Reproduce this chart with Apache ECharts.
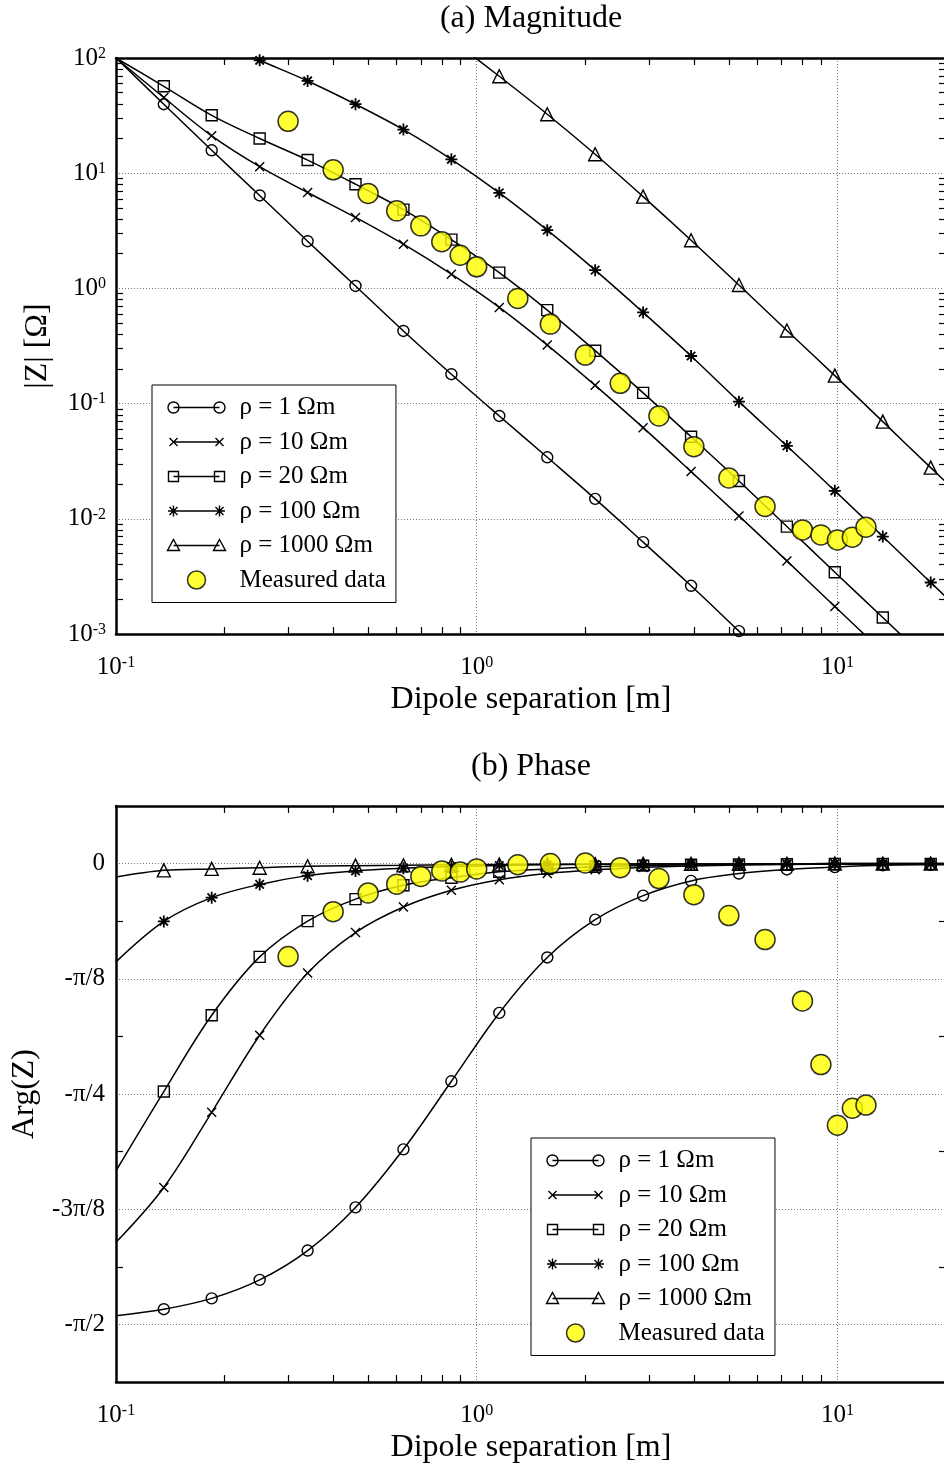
<!DOCTYPE html>
<html>
<head>
<meta charset="utf-8">
<title>Dipole impedance: magnitude and phase</title>
<script src="https://cdn.jsdelivr.net/npm/echarts@6/dist/echarts.min.js"></script>
<style>
  html, body { margin: 0; padding: 0; background: #ffffff; }
  #chart { width: 944px; height: 1468px; }
</style>
</head>
<body>
<div id="chart"></div>
<script>
// ---- Data ------------------------------------------------------------------
// Dipole separations (m) of the modelled curves; markers sit on every point but the first.
const SEP = [0.1, 0.1357, 0.1842, 0.2502, 0.3398, 0.4613, 0.6264, 0.8507, 1.155, 1.569,
             2.130, 2.893, 3.929, 5.333, 7.243, 9.835, 13.36, 18.14, 24.6];

// |Z| (ohm) for each resistivity, aligned with SEP (null = not computed / off the plot)
const MAG_R1    = [100, 39.7, 15.8, 6.41, 2.57, 1.05, 0.427, 0.180, 0.0781, 0.0342,
                   0.0149, 0.00627, 0.00262, 0.00106, 0.00043, null, null, null, null];
const MAG_R10   = [100, 45.4, 21.1, 11.4, 6.80, 4.13, 2.42, 1.33, 0.684, 0.322,
                   0.144, 0.0618, 0.0257, 0.0106, 0.00431, 0.00173, 0.00070, null, null];
const MAG_R20   = [100, 56.8, 31.8, 20.0, 13.0, 8.03, 4.83, 2.65, 1.37, 0.648,
                   0.288, 0.124, 0.0516, 0.0213, 0.00856, 0.00344, 0.00139, 0.00056, null];
const MAG_R100  = [null, null, 148, 95.5, 63.2, 39.7, 23.9, 13.2, 6.75, 3.20,
                   1.44, 0.619, 0.259, 0.104, 0.0429, 0.0175, 0.00701, 0.00280, 0.00113];
const MAG_R1000 = [null, null, null, null, null, null, null, 145, 69.4, 32.5,
                   14.6, 6.26, 2.62, 1.07, 0.431, 0.175, 0.0697, 0.0278, 0.0113];

// Arg(Z) (rad) for each resistivity, aligned with SEP
const PHASE_R1    = [-1.541, -1.519, -1.482, -1.419, -1.319, -1.172, -0.974, -0.742, -0.509, -0.320,
                     -0.191, -0.109, -0.059, -0.034, -0.020, -0.012, -0.006, -0.004, -0.003];
const PHASE_R10   = [-1.291, -1.104, -0.848, -0.585, -0.373, -0.235, -0.148, -0.091, -0.055, -0.034,
                     -0.021, -0.013, -0.008, -0.005, -0.003, -0.002, -0.001, -0.001, -0.001];
const PHASE_R20   = [-1.047, -0.777, -0.517, -0.318, -0.196, -0.121, -0.074, -0.048, -0.028, -0.018,
                     -0.011, -0.007, -0.004, -0.003, -0.002, -0.001, -0.001, -0.001, 0];
const PHASE_R100  = [-0.335, -0.197, -0.116, -0.071, -0.041, -0.025, -0.016, -0.010, -0.0065, -0.004,
                     -0.0025, -0.0015, -0.001, -0.001, -0.0005, 0, 0, 0, 0];
const PHASE_R1000 = [-0.046, -0.023, -0.018, -0.014, -0.009, -0.007, -0.006, -0.004, -0.003, -0.002,
                     -0.002, -0.001, -0.001, -0.001, -0.001, 0, 0, 0, 0];

// Field measurements
const MEAS_SEP   = [0.3, 0.4, 0.5, 0.6, 0.7, 0.8, 0.9, 1.0, 1.3, 1.6, 2.0, 2.5, 3.2, 4.0, 5.0, 6.3, 8.0, 9.0, 10, 11, 12];
const MEAS_MAG   = [28.2, 10.7, 6.67, 4.71, 3.49, 2.54, 1.94, 1.54, 0.819, 0.490, 0.264, 0.150,
                    0.0781, 0.0423, 0.0226, 0.0128, 0.0080, 0.00725, 0.00656, 0.00693, 0.00846];
const MEAS_PHASE = [-0.317, -0.164, -0.100, -0.070, -0.044, -0.025, -0.029, -0.018, -0.004, 0.000, 0.002,
                    -0.014, -0.051, -0.106, -0.177, -0.259, -0.468, -0.685, -0.892, -0.834, -0.823];

const RHO_NAMES = ['ρ = 1 Ωm', 'ρ = 10 Ωm', 'ρ = 20 Ωm', 'ρ = 100 Ωm', 'ρ = 1000 Ωm'];
const MEAS_NAME = 'Measured data';

// Axis ticks and labels
const X_LABELS = [0.1, 1, 10];
const X_GRID = [1, 10];
const MAG_LABELS = [1e-3, 1e-2, 1e-1, 1, 10, 100];
const MAG_GRID = [1e-2, 1e-1, 1, 10];
const PHASE_STEP = Math.PI / 8;
const PHASE_LABEL_TEXT = ['0', '-π/8', '-π/4', '-3π/8', '-π/2'];
const PHASE_LABELS = [0, -1, -2, -3, -4].map(k => k * PHASE_STEP);
const PHASE_MINOR = [-1, -3, -5, -7].map(k => k * Math.PI / 16);

// ---- Styling -----------------------------------------------------------------
const SERIF = 'Liberation Serif, Times New Roman, serif';
const BLACK = '#000000';
const GRID_LINE = { show: true, lineStyle: { color: '#7a7a7a', width: 1, type: [1, 2] } };
const AXIS_LINE = { show: true, onZero: false, lineStyle: { color: BLACK, width: 2.5 } };

// marker for each resistivity curve
const SYMBOLS = [
  'circle',
  'path://M0,0L10,10M10,0L0,10',
  'rect',
  'path://M5,0L5,10M0,5L10,5M1.5,1.5L8.5,8.5M8.5,1.5L1.5,8.5',
  'triangle'
];
const SYMBOL_SIZES = [11, 9, 11, 12, 13];
const SYMBOL_STROKES = [1.4, 1.4, 1.4, 1.8, 1.4];

// legend keys: marker - line - marker, 58 x 18 box
const LEGEND_ICONS = [
  'path://M0,0M58,18M11.5,9A5.5,5.5,0,1,1,0.5,9A5.5,5.5,0,1,1,11.5,9M6,9L52,9M57.5,9A5.5,5.5,0,1,1,46.5,9A5.5,5.5,0,1,1,57.5,9',
  'path://M0,0M58,18M2,5L10,13M10,5L2,13M6,9L52,9M48,5L56,13M56,5L48,13',
  'path://M0,0M58,18M1,4L11,4L11,14L1,14ZM6,9L52,9M47,4L57,4L57,14L47,14Z',
  'path://M0,0M58,18M6,3.5L6,14.5M0.5,9L11.5,9M2,5L10,13M10,5L2,13M6,9L52,9M52,3.5L52,14.5M46.5,9L57.5,9M48,5L56,13M56,5L48,13',
  'path://M0,0M58,18M6,3L12,14L0,14ZM6,9L52,9M52,3L58,14L46,14Z'
];

function logMinorTicks(lo, hi) {
  const out = [];
  for (let d = Math.round(Math.log10(lo)); d < Math.round(Math.log10(hi)) + 1; d++) {
    for (let m = 2; m <= 9; m++) {
      const v = m * Math.pow(10, d);
      if (v > lo && v < hi) out.push(v);
    }
  }
  return out;
}
const X_MINOR = logMinorTicks(0.1, 20);
const MAG_MINOR = logMinorTicks(1e-3, 100);

const powRich = {
  b: { fontFamily: SERIF, fontSize: 25, color: BLACK, lineHeight: 25, padding: [6, 0, 0, 0], verticalAlign: 'bottom' },
  s: { fontFamily: SERIF, fontSize: 16, color: BLACK, lineHeight: 16, verticalAlign: 'top' }
};
function powLabel(v) {
  return '{b|10}{s|' + Math.round(Math.log10(v)) + '}';
}
const nameStyle = { fontFamily: SERIF, fontSize: 32, color: BLACK };

// three x axes per panel: bottom (ticks + labels), top (ticks), grid lines
function xAxes(g, withName) {
  const base = { type: 'log', logBase: 10, min: 0.1, max: 20, gridIndex: g,
                 splitLine: { show: false }, minorTick: { show: false }, minorSplitLine: { show: false } };
  const ticks = { show: true, inside: true, length: 7, customValues: X_MINOR, lineStyle: { color: BLACK, width: 1.2 } };
  return [
    Object.assign({}, base, {
      position: 'bottom', axisLine: AXIS_LINE, axisTick: ticks,
      axisLabel: { show: true, customValues: X_LABELS, formatter: powLabel, rich: powRich, margin: 21 },
      name: withName, nameLocation: 'middle', nameGap: 50, nameTextStyle: nameStyle
    }),
    Object.assign({}, base, {
      position: 'top', axisLine: AXIS_LINE, axisTick: ticks, axisLabel: { show: false }
    }),
    Object.assign({}, base, {
      position: 'bottom', axisLine: { show: false, onZero: false },
      axisTick: { show: false, customValues: X_GRID }, axisLabel: { show: false }, splitLine: GRID_LINE
    })
  ];
}

function yAxesMag(g) {
  const base = { type: 'log', logBase: 10, min: 1e-3, max: 100, gridIndex: g,
                 splitLine: { show: false }, minorTick: { show: false }, minorSplitLine: { show: false } };
  const ticks = { show: true, inside: true, length: 7, customValues: MAG_MINOR, lineStyle: { color: BLACK, width: 1.2 } };
  return [
    Object.assign({}, base, {
      position: 'left', axisLine: AXIS_LINE, axisTick: ticks,
      axisLabel: { show: true, customValues: MAG_LABELS, formatter: powLabel, rich: powRich, margin: 10 },
      name: '|Z| [Ω]', nameLocation: 'middle', nameGap: 62, nameTextStyle: nameStyle
    }),
    Object.assign({}, base, { position: 'right', axisLine: AXIS_LINE, axisTick: ticks, axisLabel: { show: false } }),
    Object.assign({}, base, {
      position: 'left', axisLine: { show: false }, axisTick: { show: false, customValues: MAG_GRID },
      axisLabel: { show: false }, splitLine: GRID_LINE
    })
  ];
}

function yAxesPhase(g) {
  const base = { type: 'value', min: -9 * Math.PI / 16, max: Math.PI / 16, gridIndex: g,
                 splitLine: { show: false }, minorTick: { show: false }, minorSplitLine: { show: false } };
  const ticks = { show: true, inside: true, length: 7, customValues: PHASE_MINOR, lineStyle: { color: BLACK, width: 1.2 } };
  return [
    Object.assign({}, base, {
      position: 'left', axisLine: AXIS_LINE, axisTick: ticks,
      axisLabel: {
        show: true, customValues: PHASE_LABELS, margin: 11,
        fontFamily: SERIF, fontSize: 25, color: BLACK,
        formatter: v => PHASE_LABEL_TEXT[Math.round(-v / PHASE_STEP)]
      },
      name: 'Arg(Z)', nameLocation: 'middle', nameGap: 75, nameTextStyle: nameStyle
    }),
    Object.assign({}, base, { position: 'right', axisLine: AXIS_LINE, axisTick: ticks, axisLabel: { show: false } }),
    Object.assign({}, base, {
      position: 'left', axisLine: { show: false }, axisTick: { show: false, customValues: PHASE_LABELS },
      axisLabel: { show: false }, splitLine: GRID_LINE
    })
  ];
}

// one modelled curve: line through the values, marker on each point except the first
function curve(i, values, g) {
  const data = [];
  SEP.forEach((x, k) => {
    if (values[k] == null) return;
    data.push(k === 0 ? { value: [x, values[k]], symbol: 'none' } : [x, values[k]]);
  });
  return {
    type: 'line', name: RHO_NAMES[i], xAxisIndex: g * 3, yAxisIndex: g * 3,
    data: data, smooth: 0.35, clip: true, showAllSymbol: true,
    symbol: SYMBOLS[i], symbolSize: SYMBOL_SIZES[i],
    lineStyle: { color: BLACK, width: 1.5 },
    itemStyle: { color: 'transparent', borderColor: BLACK, borderWidth: SYMBOL_STROKES[i] },
    emphasis: { disabled: true }, z: 2
  };
}

function measured(values, g) {
  return {
    type: 'scatter', name: MEAS_NAME, xAxisIndex: g * 3, yAxisIndex: g * 3,
    data: MEAS_SEP.map((x, k) => [x, values[k]]),
    symbol: 'circle', symbolSize: 20, clip: true,
    itemStyle: { color: '#ffff00', borderColor: BLACK, borderWidth: 1.5 },
    emphasis: { disabled: true }, z: 4
  };
}

function legend(left, top) {
  return {
    orient: 'vertical', left: left, top: top,
    padding: [10, 10, 10, 13], itemGap: 9.5, itemWidth: 58, itemHeight: 18,
    backgroundColor: '#ffffff', borderColor: BLACK, borderWidth: 1, borderRadius: 0,
    selectedMode: false,
    textStyle: { fontFamily: SERIF, fontSize: 25, color: BLACK, padding: [0, 0, 0, 9] },
    itemStyle: { color: 'none', borderColor: BLACK, borderWidth: 1.4 },
    data: RHO_NAMES.map((n, i) => ({ name: n, icon: LEGEND_ICONS[i] })).concat([{
      name: MEAS_NAME, icon: 'circle',
      itemStyle: { color: '#ffff00', borderColor: BLACK, borderWidth: 1.5 }
    }])
  };
}

const MAGS = [MAG_R1, MAG_R10, MAG_R20, MAG_R100, MAG_R1000];
const PHASES = [PHASE_R1, PHASE_R10, PHASE_R20, PHASE_R100, PHASE_R1000];

const titleStyle = { fontFamily: SERIF, fontSize: 32, fontWeight: 'normal', color: BLACK };

const option = {
  backgroundColor: '#ffffff',
  animation: false,
  title: [
    { text: '(a) Magnitude', left: 531, textAlign: 'center', top: 3, padding: 0, textStyle: titleStyle },
    { text: '(b) Phase', left: 531, textAlign: 'center', top: 751, padding: 0, textStyle: titleStyle }
  ],
  grid: [
    { left: 116, top: 58, width: 830, height: 576, outerBoundsMode: 'none', containLabel: false },
    { left: 116, top: 806, width: 830, height: 576, outerBoundsMode: 'none', containLabel: false }
  ],
  xAxis: xAxes(0, 'Dipole separation [m]').concat(xAxes(1, 'Dipole separation [m]')),
  yAxis: yAxesMag(0).concat(yAxesPhase(1)),
  legend: [legend(152, 385), legend(531, 1138)],
  series: MAGS.map((v, i) => curve(i, v, 0))
    .concat([measured(MEAS_MAG, 0)])
    .concat(PHASES.map((v, i) => curve(i, v, 1)))
    .concat([measured(MEAS_PHASE, 1)])
};

const chart = echarts.init(document.getElementById('chart'), null, { renderer: 'canvas' });
chart.setOption(option);
</script>
</body>
</html>
